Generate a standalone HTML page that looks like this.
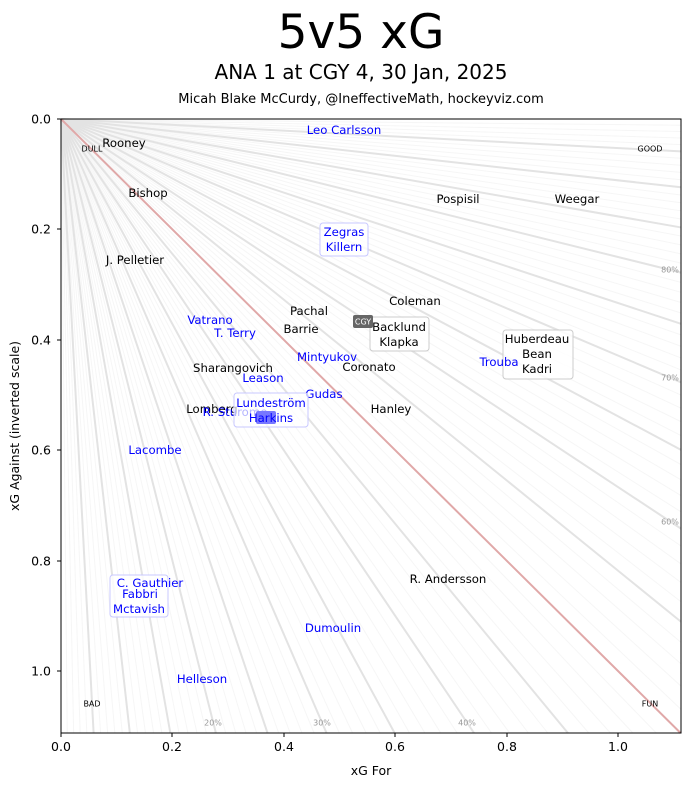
<!DOCTYPE html>
<html><head><meta charset="utf-8"><style>
html,body{margin:0;padding:0;background:#fff;}
svg{display:block;font-family:"DejaVu Sans","Liberation Sans",sans-serif;}
</style></head><body>
<svg id="s" width="691" height="788" viewBox="0 0 691 788" xmlns="http://www.w3.org/2000/svg">
<rect width="691" height="788" fill="#fff"/>
<g id="rays"></g>
<g font-size="11.7" text-anchor="middle" dominant-baseline="central">
<text x="344" y="130" fill="#0000ff">Leo Carlsson</text>
<text x="124" y="143">Rooney</text>
<text x="92" y="149" font-size="8">DULL</text>
<text x="650" y="149" font-size="8">GOOD</text>
<text x="92" y="704" font-size="8">BAD</text>
<text x="650" y="704" font-size="8">FUN</text>
<text x="148" y="193">Bishop</text>
<text x="458" y="199">Pospisil</text>
<text x="577" y="199">Weegar</text>
<rect x="320" y="223" width="48" height="33" rx="3" fill="#fff" fill-opacity="0.8" stroke="#c8c8ff"/>
<text x="344" y="232" fill="#0000ff">Zegras</text>
<text x="344" y="247" fill="#0000ff">Killern</text>
<text x="135" y="260">J. Pelletier</text>
<text x="309" y="311">Pachal</text>
<text x="415" y="301">Coleman</text>
<text x="210" y="320" fill="#0000ff">Vatrano</text>
<text x="235" y="333" fill="#0000ff">T. Terry</text>
<text x="301" y="329">Barrie</text>
<rect x="370" y="317" width="59" height="34" rx="3" fill="#fff" fill-opacity="0.8" stroke="#ccc"/>
<text x="399" y="327">Backlund</text>
<text x="399" y="342">Klapka</text>
<rect x="353" y="315" width="20" height="13" rx="2" fill="#666"/>
<text x="363" y="322" font-size="8" fill="#fff">CGY</text>
<rect x="503" y="330" width="70" height="49" rx="3" fill="#fff" fill-opacity="0.8" stroke="#ccc"/>
<text x="537" y="339">Huberdeau</text>
<text x="537" y="354">Bean</text>
<text x="537" y="369">Kadri</text>
<text x="499" y="362" fill="#0000ff">Trouba</text>
<text x="327" y="357" fill="#0000ff">Mintyukov</text>
<text x="369" y="367">Coronato</text>
<text x="233" y="368">Sharangovich</text>
<text x="263" y="378" fill="#0000ff">Leason</text>
<text x="324" y="394" fill="#0000ff">Gudas</text>
<text x="391" y="409">Hanley</text>
<text x="212" y="409">Lomberg</text>
<text x="235" y="412" fill="#0000ff">R. Sturome</text>
<rect x="234" y="393" width="74" height="34" rx="3" fill="#fff" fill-opacity="0.7" stroke="#c8c8ff"/>
<rect x="256" y="411" width="20" height="13" rx="2" fill="#7777ff"/>
<text x="271" y="403" fill="#0000ff">Lundeström</text>
<text x="271" y="418" fill="#0000ff">Harkins</text>
<text x="155" y="450" fill="#0000ff">Lacombe</text>
<text x="448" y="579">R. Andersson</text>
<rect x="110" y="575" width="58" height="42" rx="3" fill="#fff" fill-opacity="0.8" stroke="#c8c8ff"/>
<text x="150" y="583" fill="#0000ff">C. Gauthier</text>
<text x="140" y="594" fill="#0000ff">Fabbri</text>
<text x="139" y="609" fill="#0000ff">Mctavish</text>
<text x="333" y="628" fill="#0000ff">Dumoulin</text>
<text x="202" y="679" fill="#0000ff">Helleson</text>
<g font-size="8" fill="#999">
<text x="670" y="270">80%</text>
<text x="670" y="378">70%</text>
<text x="670" y="522">60%</text>
<text x="213" y="723">20%</text>
<text x="322" y="723">30%</text>
<text x="467" y="723">40%</text>
</g>
</g>
<rect x="61" y="119" width="620" height="614" fill="none" stroke="#000" stroke-width="1"/>
<g id="ticks" stroke="#000"></g>
<g font-size="12.5" fill="#000">
<g text-anchor="middle">
<text x="61" y="751">0.0</text><text x="172" y="751">0.2</text><text x="284" y="751">0.4</text>
<text x="395" y="751">0.6</text><text x="507" y="751">0.8</text><text x="618" y="751">1.0</text>
<text x="371" y="775">xG For</text>
</g>
<g text-anchor="end" dominant-baseline="central">
<text x="51" y="119">0.0</text><text x="51" y="229">0.2</text><text x="51" y="340">0.4</text>
<text x="51" y="450">0.6</text><text x="51" y="561">0.8</text><text x="51" y="671">1.0</text>
</g>
<text transform="translate(19,426) rotate(-90)" text-anchor="middle">xG Against (inverted scale)</text>
</g>
<text x="361" y="48" font-size="47" text-anchor="middle">5v5 xG</text>
<text x="361" y="79" font-size="20" text-anchor="middle">ANA 1 at CGY 4, 30 Jan, 2025</text>
<text x="361" y="103" font-size="13" text-anchor="middle">Micah Blake McCurdy, @IneffectiveMath, hockeyviz.com</text>
</svg>
<script>
(function(){
var NS="http://www.w3.org/2000/svg",g=document.getElementById("rays");
function ln(x1,y1,x2,y2,c,w){var l=document.createElementNS(NS,"line");l.setAttribute("x1",x1);l.setAttribute("y1",y1);l.setAttribute("x2",x2);l.setAttribute("y2",y2);l.setAttribute("stroke",c);l.setAttribute("stroke-width",w);g.appendChild(l);}
var ox=61,oy=119,W=620,H=614;
var heavy=[];
for(var i=1;i<100;i++){
 var p=i/100,dx=p*557,dy=(1-p)*552,t=Math.min(W/dx,H/dy);
 if(i==50)continue;
 if(i%5==0){heavy.push([dx*t,dy*t]);continue;}
 ln(ox,oy,ox+dx*t,oy+dy*t,"#f6f6f6",1);
}
heavy.forEach(function(h){ln(ox,oy,ox+h[0],oy+h[1],"#e3e3e3",2);});
var dx=0.5*557,dy=0.5*552,t=Math.min(W/dx,H/dy);
ln(ox,oy,ox+dx*t,oy+dy*t,"#e0a8a8",2);
var tk=document.getElementById("ticks");
[61,172,284,395,507,618].forEach(function(x){var l=document.createElementNS(NS,"line");l.setAttribute("x1",x);l.setAttribute("x2",x);l.setAttribute("y1",733);l.setAttribute("y2",737);tk.appendChild(l);});
[119,229,340,450,561,671].forEach(function(y){var l=document.createElementNS(NS,"line");l.setAttribute("x1",57);l.setAttribute("x2",61);l.setAttribute("y1",y);l.setAttribute("y2",y);tk.appendChild(l);});
})();
</script>
</body></html>
